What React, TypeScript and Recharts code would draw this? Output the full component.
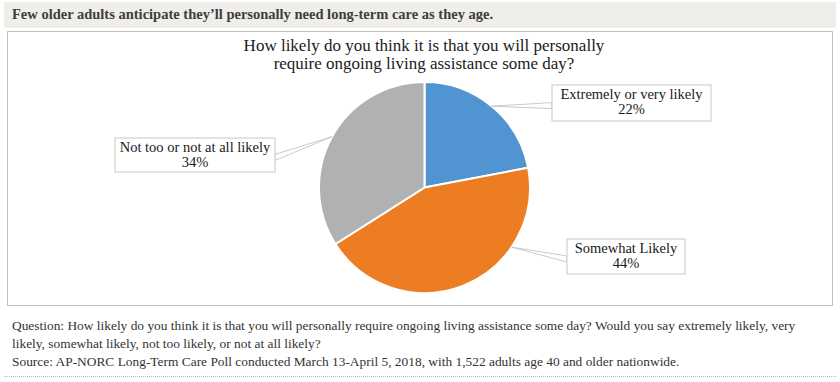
import { PieChart, Pie, Cell } from "recharts"

const categories = ["Extremely or very likely", "Somewhat Likely", "Not too or not at all likely"]
const shares = [22, 44, 34]
const colors = ["#5095d2", "#ed7d22", "#b0b1b3"]

const headline = "Few older adults anticipate they\u2019ll personally need long-term care as they age."
const titleLines = [
  "How likely do you think it is that you will personally",
  "require ongoing living assistance some day?",
]
const noteLines = [
  "Question: How likely do you think it is that you will personally require ongoing living assistance some day? Would you say extremely likely, very",
  "likely, somewhat likely, not too likely, or not at all likely?",
  "Source: AP-NORC Long-Term Care Poll conducted March 13-April 5, 2018, with 1,522 adults age 40 and older nationwide.",
]

const data = categories.map((name, i) => ({ name, value: shares[i] }))

const FONT = "'Liberation Serif', serif"
const RAD = Math.PI / 180

// label box placement relative to the pie centre
const labelLayout = [
  { dx: 127.5, dy: -102.5, w: 159, h: 36, side: "left", anchor: 0 },
  { dx: 142.5, dy: 51.5, w: 118, h: 35, side: "left", anchor: 34 },
  { dx: -309.5, dy: -49.5, w: 160, h: 34, side: "right", anchor: 0 },
]

function BoxLabel(props: any) {
  const { cx, cy, midAngle, outerRadius, index, name, value } = props
  const l = labelLayout[index]
  const a = (midAngle + l.anchor) * RAD
  const px = cx + outerRadius * Math.cos(a)
  const py = cy - outerRadius * Math.sin(a)
  const bx = cx + l.dx
  const by = cy + l.dy
  const ex = l.side === "left" ? bx : bx + l.w
  const ey = by + l.h * 0.6
  return (
    <g>
      <polyline points={`${px},${py} ${ex},${ey - 4} ${ex},${ey + 2} ${px},${py}`} fill="none" stroke="#bdbdbd" strokeWidth={0.8} />
      <rect x={bx} y={by} width={l.w} height={l.h} fill="#fff" stroke="#c8c8c8" strokeWidth={1} />
      <text x={bx + l.w / 2} y={by + 14} textAnchor="middle" fontFamily={FONT} fontSize={14.5} fill="#1a1a1a">
        {name}
      </text>
      <text x={bx + l.w / 2} y={by + 29} textAnchor="middle" fontFamily={FONT} fontSize={14.5} fill="#1a1a1a">
        {value}%
      </text>
    </g>
  )
}

export default function App() {
  return (
    <div style={{ position: "absolute", left: 0, top: 0, width: 840, height: 382, background: "#fff", fontFamily: FONT }}>
      <div
        style={{
          position: "absolute", left: 4, top: 2, width: 832, height: 26, background: "#efeeea",
        }}
      />
      <div style={{ position: "absolute", left: 12, top: 6, fontSize: 14.5, fontWeight: 700, color: "#3d3d3d", whiteSpace: "nowrap" }}>
        {headline}
      </div>
      <div
        style={{
          position: "absolute", left: 7, top: 31, width: 824, height: 273, border: "1px solid #c5c0b8",
        }}
      />
      <div style={{ position: "absolute", left: 0, top: 0 }}>
        <PieChart width={840} height={382} margin={{ top: 0, right: 0, bottom: 0, left: 0 }}>
          <Pie
            data={data}
            dataKey="value"
            nameKey="name"
            cx={424.5}
            cy={187.5}
            outerRadius={105.5}
            startAngle={90}
            endAngle={-270}
            stroke="#fff"
            strokeWidth={2}
            label={BoxLabel}
            labelLine={false}
            isAnimationActive={false}
          >
            {data.map((d, i) => (
              <Cell key={d.name} fill={colors[i]} />
            ))}
          </Pie>
        </PieChart>
      </div>
      {titleLines.map((t, i) => (
        <div
          key={t}
          style={{
            position: "absolute", left: 0, width: 848, top: 36 + i * 18, textAlign: "center",
            fontSize: 17, color: "#1a1a1a", whiteSpace: "nowrap",
          }}
        >
          {t}
        </div>
      ))}
      {noteLines.map((t, i) => (
        <div
          key={t}
          style={{
            position: "absolute", left: 12, top: 318 + i * 18, fontSize: 13.4, color: "#333",
            whiteSpace: "nowrap",
          }}
        >
          {t}
        </div>
      ))}
      <div style={{ position: "absolute", left: 4, top: 376, width: 832, borderTop: "1px dotted #bbb" }} />
    </div>
  )
}
